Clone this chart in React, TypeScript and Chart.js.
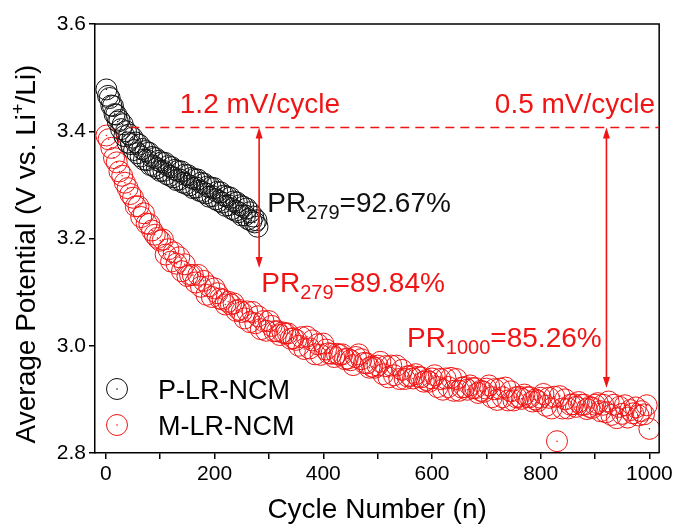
import React, { useEffect, useRef } from 'react';
import { Chart, registerables } from 'chart.js';

Chart.register(...registerables);

const FONT = '"Liberation Sans", Arial, Helvetica, sans-serif';
const RED = '#f01414';
const BLACK = '#111111';

// P-LR-NCM: average discharge potential, every 3rd cycle up to cycle 279
const pValues = [
  3.478, 3.466, 3.462, 3.448, 3.447, 3.432, 3.431, 3.418, 3.421, 3.404,
  3.413, 3.391, 3.400, 3.379, 3.394, 3.376, 3.388, 3.365, 3.379, 3.359,
  3.375, 3.353, 3.367, 3.347, 3.363, 3.346, 3.360, 3.337, 3.352, 3.335,
  3.350, 3.331, 3.345, 3.326, 3.342, 3.326, 3.341, 3.320, 3.335, 3.317,
  3.333, 3.314, 3.328, 3.309, 3.326, 3.310, 3.325, 3.304, 3.319, 3.302,
  3.318, 3.299, 3.313, 3.294, 3.311, 3.295, 3.310, 3.289, 3.304, 3.287,
  3.302, 3.284, 3.297, 3.278, 3.295, 3.279, 3.294, 3.273, 3.287, 3.270,
  3.286, 3.267, 3.280, 3.261, 3.278, 3.262, 3.276, 3.255, 3.269, 3.252,
  3.267, 3.249, 3.262, 3.243, 3.259, 3.243, 3.256, 3.236, 3.249, 3.233,
  3.241, 3.230, 3.234, 3.222,
];
const pCycles = pValues.map((_, i) => (i === pValues.length - 1 ? 279 : 1 + 3 * i));

// M-LR-NCM: cycle 1, then every 5th cycle up to cycle 1000
const mValues = [
  3.392,
  3.385, 3.369, 3.350, 3.342, 3.325, 3.317, 3.304, 3.294, 3.283, 3.276,
  3.260, 3.260, 3.240, 3.247, 3.228, 3.227, 3.215, 3.207, 3.201, 3.196,
  3.198, 3.170, 3.180, 3.157, 3.174, 3.153, 3.165, 3.139, 3.152, 3.130,
  3.132, 3.132, 3.118, 3.132, 3.110, 3.121, 3.095, 3.111, 3.091, 3.107,
  3.098, 3.088, 3.086, 3.077, 3.082, 3.077, 3.079, 3.065, 3.067, 3.063,
  3.051, 3.064, 3.044, 3.063, 3.042, 3.055, 3.031, 3.046, 3.028, 3.046,
  3.037, 3.027, 3.027, 3.020, 3.025, 3.023, 3.023, 3.013, 3.014, 3.011,
  3.000, 3.016, 2.994, 3.017, 2.995, 3.010, 2.984, 3.003, 2.983, 3.004,
  2.993, 2.986, 2.985, 2.979, 2.985, 2.983, 2.984, 2.975, 2.976, 2.973,
  2.964, 2.979, 2.984, 2.975, 2.968, 2.967, 2.959, 2.961, 2.959, 2.963,
  2.970, 2.947, 2.962, 2.941, 2.963, 2.945, 2.963, 2.938, 2.955, 2.938,
  2.943, 2.944, 2.939, 2.947, 2.942, 2.941, 2.933, 2.936, 2.933, 2.939,
  2.945, 2.923, 2.938, 2.918, 2.939, 2.923, 2.940, 2.916, 2.938, 2.916,
  2.922, 2.923, 2.918, 2.926, 2.921, 2.921, 2.912, 2.916, 2.914, 2.920,
  2.926, 2.904, 2.919, 2.899, 2.920, 2.904, 2.922, 2.898, 2.915, 2.898,
  2.904, 2.905, 2.901, 2.909, 2.904, 2.904, 2.896, 2.900, 2.897, 2.903,
  2.910, 2.888, 2.903, 2.883, 2.905, 2.822, 2.906, 2.883, 2.900, 2.883,
  2.890, 2.891, 2.886, 2.895, 2.890, 2.890, 2.882, 2.886, 2.884, 2.890,
  2.893, 2.878, 2.890, 2.876, 2.896, 2.871, 2.890, 2.865, 2.886, 2.873,
  2.889, 2.866, 2.880, 2.874, 2.885, 2.870, 2.878, 2.872, 2.889, 2.845,
];
const mCycles = mValues.map((_, i) => (i === 0 ? 1 : 5 * i));

const seriesLabels = ['P-LR-NCM', 'M-LR-NCM'];
const xTicks = [0, 100, 200, 300, 400, 500, 600, 700, 800, 900, 1000];
const yTicks = [2.8, 3.0, 3.2, 3.4, 3.6];

// reference level for the decay rates and the cycles where the arrows sit
const refLevel = 3.407;
const arrowCycles = [282, 921];
const arrowEnds = [3.145, 2.921];
const rateLabels = ['1.2 mV/cycle', '0.5 mV/cycle'];
const retention = [
  { sub: '279', value: '92.67%', color: BLACK, x: 297, y: 3.249 },
  { sub: '279', value: '89.84%', color: RED, x: 286, y: 3.1 },
  { sub: '1000', value: '85.26%', color: RED, x: 554, y: 2.998 },
];

function toPoints(xs: number[], ys: number[]) {
  return xs.map((x, i) => ({ x, y: ys[i] }));
}

function arrowHead(ctx: CanvasRenderingContext2D, x: number, y: number, dir: number) {
  ctx.beginPath();
  ctx.moveTo(x, y);
  ctx.lineTo(x - 3.5, y + dir * 11);
  ctx.lineTo(x + 3.5, y + dir * 11);
  ctx.closePath();
  ctx.fill();
}

const decorPlugin = {
  id: 'decor',
  afterDatasetsDraw(chart: any) {
    const { ctx, chartArea: a, scales } = chart;
    const xs = scales.x;
    const ys = scales.y;
    ctx.save();

    // frame on top and right
    ctx.strokeStyle = '#000';
    ctx.lineWidth = 1.5;
    ctx.beginPath();
    ctx.moveTo(a.left, a.top);
    ctx.lineTo(a.right, a.top);
    ctx.lineTo(a.right, a.bottom);
    ctx.stroke();

    // dashed reference level
    const yRef = ys.getPixelForValue(refLevel);
    ctx.strokeStyle = RED;
    ctx.lineWidth = 1.6;
    ctx.setLineDash([9, 6]);
    ctx.beginPath();
    ctx.moveTo(xs.getPixelForValue(45), yRef);
    ctx.lineTo(a.right, yRef);
    ctx.stroke();
    ctx.setLineDash([]);

    // double arrows
    ctx.fillStyle = RED;
    ctx.lineWidth = 1.6;
    arrowCycles.forEach((c, i) => {
      const x = xs.getPixelForValue(c);
      const yb = ys.getPixelForValue(arrowEnds[i]);
      ctx.beginPath();
      ctx.moveTo(x, yRef + 4);
      ctx.lineTo(x, yb - 4);
      ctx.stroke();
      arrowHead(ctx, x, yRef, 1);
      arrowHead(ctx, x, yb, -1);
    });

    // decay rate labels
    ctx.font = `28px ${FONT}`;
    ctx.textBaseline = 'alphabetic';
    ctx.fillStyle = RED;
    const yRate = ys.getPixelForValue(3.434);
    ctx.textAlign = 'left';
    ctx.fillText(rateLabels[0], xs.getPixelForValue(136), yRate);
    ctx.textAlign = 'right';
    ctx.fillText(rateLabels[1], xs.getPixelForValue(1010.5), yRate);

    // retention labels with subscripts
    ctx.textAlign = 'left';
    retention.forEach((r) => {
      let x = xs.getPixelForValue(r.x);
      const y = ys.getPixelForValue(r.y);
      ctx.fillStyle = r.color;
      ctx.font = `28px ${FONT}`;
      ctx.fillText('PR', x, y);
      x += ctx.measureText('PR').width;
      ctx.font = `20px ${FONT}`;
      ctx.fillText(r.sub, x, y + 7);
      x += ctx.measureText(r.sub).width;
      ctx.font = `28px ${FONT}`;
      ctx.fillText('=' + r.value, x, y);
    });

    // legend
    const colors = [BLACK, RED];
    seriesLabels.forEach((lab, i) => {
      const cy = a.top + 365 + i * 36;
      const cx = a.left + 22;
      ctx.strokeStyle = colors[i];
      ctx.fillStyle = colors[i];
      ctx.lineWidth = 1;
      ctx.beginPath();
      ctx.arc(cx, cy, 10.5, 0, Math.PI * 2);
      ctx.stroke();
      ctx.beginPath();
      ctx.arc(cx, cy, 0.8, 0, Math.PI * 2);
      ctx.fill();
      ctx.fillStyle = '#000';
      ctx.font = `27px ${FONT}`;
      ctx.textAlign = 'left';
      ctx.fillText(lab, a.left + 63, cy + 9.5);
    });

    ctx.restore();
  },
  afterDraw(chart: any) {
    const { ctx, chartArea: a } = chart;
    ctx.save();
    ctx.fillStyle = '#000';
    ctx.textBaseline = 'alphabetic';

    // x title
    ctx.font = `28px ${FONT}`;
    ctx.textAlign = 'center';
    ctx.fillText('Cycle Number (n)', (a.left + a.right) / 2, 518);

    // y title with superscript
    const parts = [
      { t: 'Average Potential (V vs. Li', s: 28, dy: 0 },
      { t: '+', s: 18, dy: -11 },
      { t: '/Li)', s: 28, dy: 0 },
    ];
    let total = 0;
    parts.forEach((p) => {
      ctx.font = `${p.s}px ${FONT}`;
      total += ctx.measureText(p.t).width;
    });
    ctx.translate(35, 254);
    ctx.rotate(-Math.PI / 2);
    ctx.textAlign = 'left';
    let x = -total / 2;
    parts.forEach((p) => {
      ctx.font = `${p.s}px ${FONT}`;
      ctx.fillText(p.t, x, p.dy);
      x += ctx.measureText(p.t).width;
    });
    ctx.restore();
  },
};

export default function App() {
  const canvasRef = useRef<HTMLCanvasElement | null>(null);

  useEffect(() => {
    const canvas = canvasRef.current;
    if (!canvas) return;
    const ring = (color: string, data: any[]) => ({
      data,
      showLine: false,
      pointRadius: 10.5,
      pointBorderWidth: 1,
      pointBorderColor: color,
      pointBackgroundColor: 'rgba(0,0,0,0)',
      pointHoverRadius: 10.5,
    });
    const dot = (color: string, data: any[]) => ({
      data,
      showLine: false,
      pointRadius: 0.8,
      pointBorderWidth: 0,
      pointBackgroundColor: color,
    });
    const pData = toPoints(pCycles, pValues);
    const mData = toPoints(mCycles, mValues);

    const chart = new Chart(canvas, {
      type: 'scatter',
      data: {
        datasets: [
          { label: seriesLabels[0], ...ring(BLACK, pData) },
          { label: seriesLabels[0] + ' center', ...dot(BLACK, pData) },
          { label: seriesLabels[1], ...ring(RED, mData) },
          { label: seriesLabels[1] + ' center', ...dot(RED, mData) },
        ],
      },
      options: {
        animation: false,
        responsive: false,
        devicePixelRatio: 1,
        layout: { padding: { top: 24, right: 15, left: 0, bottom: 0 } },
        plugins: { legend: { display: false }, tooltip: { enabled: false } },
        events: [],
        scales: {
          x: {
            type: 'linear',
            min: -20,
            max: 1018,
            afterBuildTicks: (s: any) => {
              s.ticks = xTicks.map((v) => ({ value: v }));
            },
            afterFit: (s: any) => {
              s.height = 77;
            },
            ticks: {
              autoSkip: false,
              maxRotation: 0,
              padding: 3,
              color: '#000',
              font: { family: FONT, size: 21 },
              callback: (v: any) => (Number(v) % 200 === 0 ? String(v) : ''),
            },
            grid: { drawOnChartArea: false, drawTicks: true, tickLength: 6, color: '#000', lineWidth: 1.5 },
            border: { display: true, color: '#000', width: 1.5 },
          },
          y: {
            type: 'linear',
            min: 2.8,
            max: 3.6,
            afterBuildTicks: (s: any) => {
              s.ticks = yTicks.map((v) => ({ value: v }));
            },
            afterFit: (s: any) => {
              s.width = 95;
            },
            ticks: {
              padding: 3,
              color: '#000',
              font: { family: FONT, size: 21 },
              callback: (v: any) => Number(v).toFixed(1),
            },
            grid: { drawOnChartArea: false, drawTicks: true, tickLength: 6, color: '#000', lineWidth: 1.5 },
            border: { display: true, color: '#000', width: 1.5 },
          },
        },
      },
      plugins: [decorPlugin],
    });
    return () => chart.destroy();
  }, []);

  return (
    <div style={{ position: 'absolute', left: 0, top: 0, width: 676, height: 530, background: '#fff' }}>
      <canvas ref={canvasRef} width={676} height={530} />
    </div>
  );
}
